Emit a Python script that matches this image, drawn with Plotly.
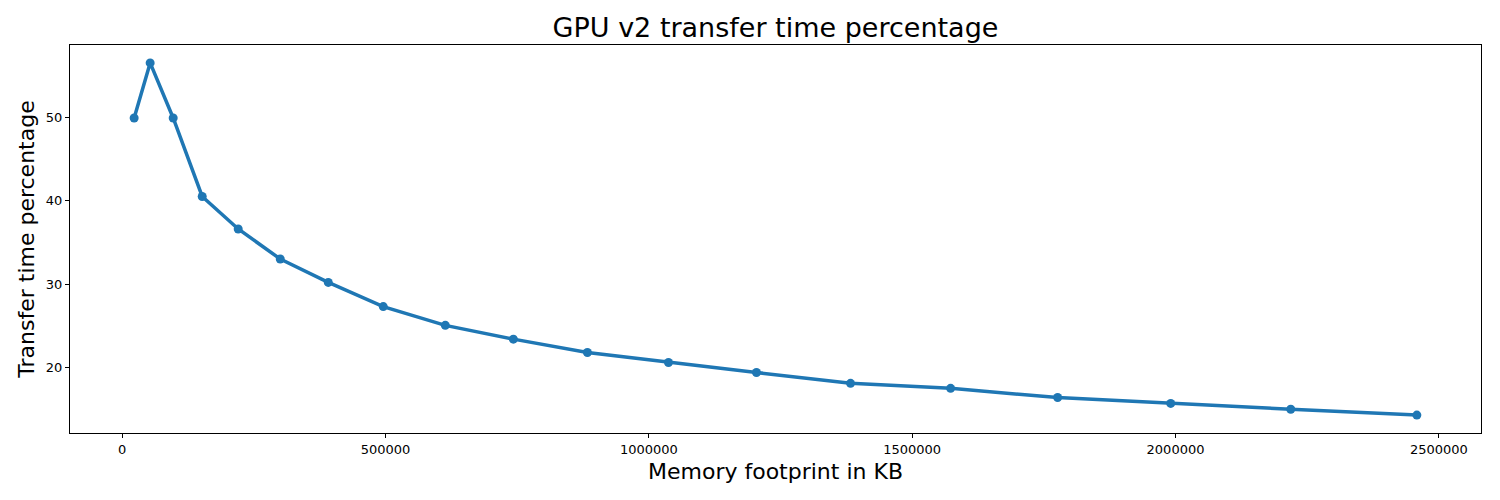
import plotly.graph_objects as go

memory_kb = [22800, 53200, 96900, 152000, 220400, 300200, 391400, 495800, 613600,
             742800, 883400, 1037300, 1204400, 1383000, 1573000, 1776200, 1990900,
             2218800, 2458200]
transfer_pct = [49.9, 56.5, 49.9, 40.5, 36.6, 33.0, 30.2, 27.3, 25.05, 23.4, 21.8,
                20.6, 19.4, 18.1, 17.5, 16.4, 15.7, 15.0, 14.3]
x_ticks = [0, 500000, 1000000, 1500000, 2000000, 2500000]
y_ticks = [20, 30, 40, 50]

fig = go.Figure()
fig.add_trace(go.Scatter(
    x=memory_kb, y=transfer_pct, mode="lines+markers",
    line=dict(color="#1f77b4", width=3.5),
    marker=dict(color="#1f77b4", size=9),
    showlegend=False,
))

font = "DejaVu Sans, sans-serif"
axis_common = dict(
    showgrid=False, zeroline=False, showline=True, linecolor="black", linewidth=1,
    mirror=True, ticks="outside", ticklen=4, tickcolor="black",
    tickfont=dict(family=font, size=13, color="black"),
)
fig.update_layout(
    width=1500, height=500,
    margin=dict(l=62, r=27, t=37, b=75),
    paper_bgcolor="white", plot_bgcolor="white",
    title=dict(text="GPU v2 transfer time percentage", x=(62 + 1473) / 2 / 1500,
               xanchor="center", y=1 - 20 / 500, yanchor="middle",
               font=dict(family=font, size=27, color="black")),
    xaxis=dict(axis_common, range=[-99000, 2580000], tickvals=x_ticks,
               ticktext=[str(v) for v in x_ticks],
               title=dict(text="Memory footprint in KB", standoff=8,
                          font=dict(family=font, size=22, color="black"))),
    yaxis=dict(axis_common, range=[12.15, 58.65], tickvals=y_ticks,
               ticktext=[str(v) for v in y_ticks],
               title=dict(text="Transfer time percentage", standoff=5,
                          font=dict(family=font, size=22, color="black"))),
)
fig.write_html("out.html")
